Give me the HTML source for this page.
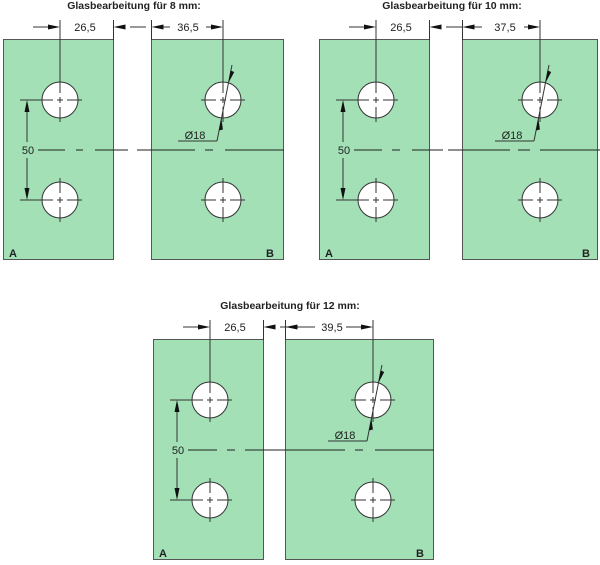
<!DOCTYPE html>
<html><head><meta charset="utf-8"><style>
html,body{margin:0;padding:0;background:#fff;}
svg{display:block;}
text{font-family:"Liberation Sans",Arial,sans-serif;fill:#222;}
</style></head><body>
<svg width="600" height="565" viewBox="0 0 600 565" xmlns="http://www.w3.org/2000/svg">
<defs>
  <g id="hole">
    <circle cx="0" cy="0" r="18" fill="#fff" stroke="#333" stroke-width="1"/>
    <path d="M-22 0H-7M-3 0H3M7 0H22M0 -22V-7M0 -3V3M0 7V22" stroke="#333" stroke-width="1" fill="none"/>
  </g>
  <g id="panelA">
    <rect x="3.5" y="39.5" width="110" height="220" fill="#a3e0b6" stroke="#555" stroke-width="1"/>
    <use href="#hole" x="60" y="100"/>
    <use href="#hole" x="60" y="200"/>
    <path d="M60 20V82M113.5 20V40M33 27H50M130 27H146M20 100H40M20 200H40M27 108V142M27 158V192" stroke="#333" stroke-width="1" fill="none"/>
    <path d="M60 27L48 24.5V29.5Z M113.5 27L125.5 24.5V29.5Z M27 100L24.5 112H29.5Z M27 200L24.5 188H29.5Z" fill="#111"/>
  </g>
  <g id="diam">
    <path d="M0 0L-15 76M-15 76H-54" stroke="#333" stroke-width="1" fill="none"/>
    <path d="M-3.6 18L-1.4 5.5L2.2 7Z M-10.7 53L-12.9 65.5L-9.1 64.5Z" fill="#111"/>
  </g>
</defs>

<!-- Group 1 -->
<text x="134" y="9" font-size="10.5" font-weight="bold" text-anchor="middle">Glasbearbeitung für 8 mm:</text>
<g>
  <use href="#panelA"/>
  <text x="85" y="31" font-size="11" text-anchor="middle">26,5</text>
  <text x="28" y="154" font-size="11" text-anchor="middle">50</text>
  <text x="9" y="257" font-size="11" font-weight="bold">A</text>
  <rect x="151.5" y="39.5" width="132" height="220" fill="#a3e0b6" stroke="#555" stroke-width="1"/>
  <use href="#hole" x="223" y="100"/>
  <use href="#hole" x="223" y="200"/>
  <path d="M151.5 20V40M223 20V82M163 27H170M206 27H211" stroke="#333" stroke-width="1" fill="none"/>
  <path d="M151.5 27L163.5 24.5V29.5Z M223 27L211 24.5V29.5Z" fill="#111"/>
  <text x="188" y="31" font-size="11" text-anchor="middle">36,5</text>
  <use href="#diam" x="232" y="65"/>
  <text x="195" y="139" font-size="11" text-anchor="middle">Ø18</text>
  <text x="266" y="257" font-size="11" font-weight="bold">B</text>
  <path d="M38 150H65M76 150H83M95 150H128M137 150H195M205 150H213M225 150H284" stroke="#222" stroke-width="1"/>
</g>

<!-- Group 2 -->
<text x="452" y="9" font-size="10.5" font-weight="bold" text-anchor="middle">Glasbearbeitung für 10 mm:</text>
<g transform="translate(316,0)">
  <use href="#panelA"/>
  <text x="85" y="31" font-size="11" text-anchor="middle">26,5</text>
  <text x="28" y="154" font-size="11" text-anchor="middle">50</text>
  <text x="9" y="257" font-size="11" font-weight="bold">A</text>
  <rect x="146.5" y="39.5" width="135" height="220" fill="#a3e0b6" stroke="#555" stroke-width="1"/>
  <use href="#hole" x="224" y="100"/>
  <use href="#hole" x="224" y="200"/>
  <path d="M146.5 20V40M224 20V82M158 27H166M208 27H212" stroke="#333" stroke-width="1" fill="none"/>
  <path d="M146.5 27L158.5 24.5V29.5Z M224 27L212 24.5V29.5Z" fill="#111"/>
  <text x="189" y="31" font-size="11" text-anchor="middle">37,5</text>
  <use href="#diam" x="233" y="65"/>
  <text x="196" y="139" font-size="11" text-anchor="middle">Ø18</text>
  <text x="266" y="257" font-size="11" font-weight="bold">B</text>
  <path d="M38 150H66M76 150H84M96 150H127M132 150H194M202 150H214M224 150H284" stroke="#222" stroke-width="1"/>
</g>

<!-- Group 3 -->
<text x="290" y="309" font-size="10.5" font-weight="bold" text-anchor="middle">Glasbearbeitung für 12 mm:</text>
<g transform="translate(150,300)">
  <use href="#panelA"/>
  <text x="85" y="31" font-size="11" text-anchor="middle">26,5</text>
  <text x="28" y="154" font-size="11" text-anchor="middle">50</text>
  <text x="9" y="257" font-size="11" font-weight="bold">A</text>
  <rect x="135.5" y="39.5" width="148" height="220" fill="#a3e0b6" stroke="#555" stroke-width="1"/>
  <use href="#hole" x="223" y="100"/>
  <use href="#hole" x="223" y="200"/>
  <path d="M135.5 20V40M223 20V82M147 27H165M196 27H211" stroke="#333" stroke-width="1" fill="none"/>
  <path d="M135.5 27L147.5 24.5V29.5Z M223 27L211 24.5V29.5Z" fill="#111"/>
  <text x="182" y="31" font-size="11" text-anchor="middle">39,5</text>
  <use href="#diam" x="232" y="65"/>
  <text x="195" y="139" font-size="11" text-anchor="middle">Ø18</text>
  <text x="266" y="257" font-size="11" font-weight="bold">B</text>
  <path d="M38 150H67M77 150H85M95 150H195M205 150H213M225 150H284" stroke="#222" stroke-width="1"/>
</g>
</svg>
</body></html>
